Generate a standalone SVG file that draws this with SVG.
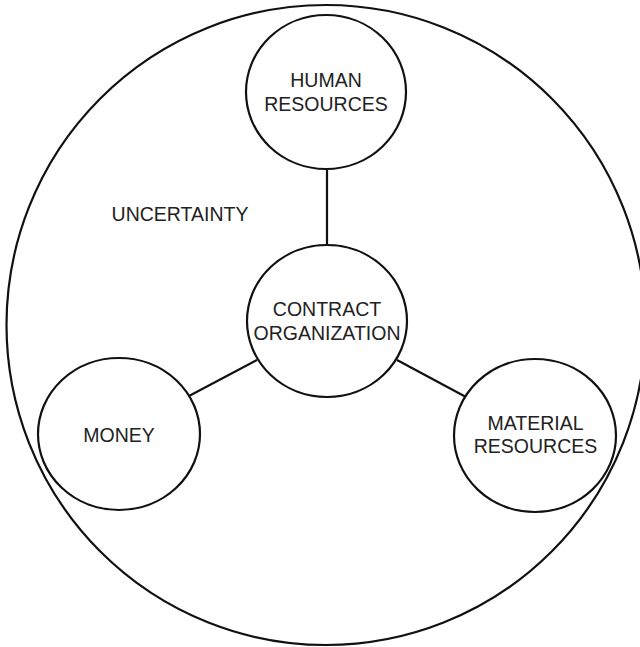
<svg xmlns="http://www.w3.org/2000/svg" width="640" height="647" viewBox="0 0 640 647">
<style>
.n{fill:#fff;stroke:#111;stroke-width:2.2}
.c{stroke:#111;stroke-width:2.2;fill:none}
text{font-family:"Liberation Sans",Arial,sans-serif;font-size:19.5px;fill:#222;text-anchor:middle}
</style>
<rect width="640" height="647" fill="#fff"/>
<g id="uncertainty">
<ellipse cx="326" cy="325" rx="319.5" ry="320" fill="none" stroke="#111" stroke-width="2.2"/>
<text x="180" y="221">UNCERTAINTY</text>
</g>
<g id="connectors">
<line class="c" x1="327" y1="169" x2="327" y2="245"/>
<line class="c" x1="189" y1="396" x2="257" y2="360"/>
<line class="c" x1="397" y1="360" x2="466" y2="397"/>
</g>
<g id="human">
<ellipse class="n" cx="326" cy="92" rx="80" ry="77"/>
<text x="326" y="87">HUMAN</text>
<text x="326" y="111">RESOURCES</text>
</g>
<g id="contract">
<ellipse class="n" cx="327" cy="321" rx="80" ry="76"/>
<text x="327" y="316">CONTRACT</text>
<text x="327" y="340">ORGANIZATION</text>
</g>
<g id="money">
<ellipse class="n" cx="119" cy="434" rx="81" ry="76"/>
<text x="119" y="442">MONEY</text>
</g>
<g id="material">
<ellipse class="n" cx="535" cy="435.5" rx="81" ry="76.5"/>
<text x="535.5" y="430">MATERIAL</text>
<text x="535.5" y="453">RESOURCES</text>
</g>
</svg>
